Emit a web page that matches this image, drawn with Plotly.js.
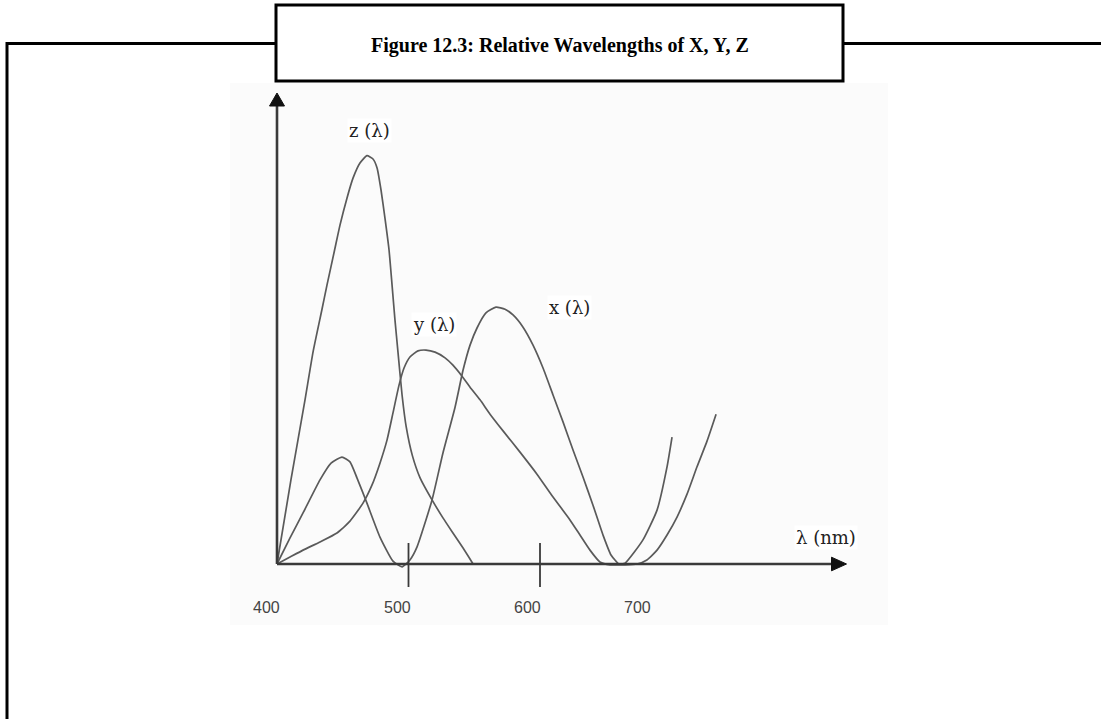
<!DOCTYPE html>
<html>
<head>
<meta charset="utf-8">
<script src="https://cdn.plot.ly/plotly-3.0.1.min.js"></script>
<style>html,body{margin:0;padding:0;background:#fff;}#chart{width:1101px;height:719px;}</style>
</head>
<body>
<div id="chart"></div>
<script>
// ---- data (wavelength in nm, relative response) ----
const zNm  = [400, 410.6, 421.3, 427.4, 434.1, 438.0, 443.8, 447.9, 453.2, 457.8, 463.1, 468.4, 473.0, 476.1, 479.1, 482.1, 485.2, 487.5, 489.7, 492.0, 495.1, 498.3, 502.9, 508.8, 517.9, 526.2, 533.8, 541.5, 549.1];
const zVal = [0, 0.206, 0.402, 0.519, 0.622, 0.683, 0.769, 0.830, 0.896, 0.945, 0.982, 1.0, 0.992, 0.970, 0.916, 0.847, 0.769, 0.683, 0.598, 0.519, 0.414, 0.335, 0.266, 0.211, 0.157, 0.113, 0.076, 0.039, 0.0];

const yNm  = [400, 409.9, 419.8, 432.7, 445.6, 455.5, 465.4, 472.2, 478.3, 483.7, 488.2, 492.8, 496.6, 501.1, 507.2, 513.3, 520.2, 527.8, 533.8, 540.7, 546.8, 554.4, 562.0, 571.9, 584.8, 597.7, 609.9, 622.8, 630.4, 638.0, 645.6, 653.2, 664.7, 673.8, 681.3, 689.0, 696.6, 704.2, 711.8, 719.4, 727.0, 733.9];
const yVal = [0, 0.017, 0.034, 0.054, 0.076, 0.105, 0.149, 0.193, 0.247, 0.304, 0.370, 0.438, 0.480, 0.507, 0.522, 0.524, 0.519, 0.505, 0.487, 0.460, 0.433, 0.402, 0.367, 0.326, 0.274, 0.220, 0.164, 0.108, 0.071, 0.034, 0.005, -0.002, -0.002, 0, 0.010, 0.034, 0.071, 0.115, 0.171, 0.238, 0.301, 0.367];

const xNm  = [400, 409.9, 419.8, 432.7, 441.1, 449.4, 455.5, 460.8, 468.4, 478.3, 488.2, 495.1, 501.1, 506.5, 517.9, 526.2, 535.4, 541.5, 546.8, 552.1, 558.9, 566.5, 573.4, 579.5, 587.1, 594.7, 602.3, 609.9, 617.5, 625.1, 632.7, 640.3, 647.9, 654.0, 660.1, 664.7, 678.3, 689.0, 696.6, 700.4];
const xVal = [0, 0.064, 0.125, 0.206, 0.247, 0.262, 0.250, 0.211, 0.149, 0.066, 0.007, -0.007, 0.010, 0.042, 0.157, 0.272, 0.384, 0.475, 0.536, 0.578, 0.615, 0.629, 0.624, 0.610, 0.580, 0.536, 0.480, 0.414, 0.348, 0.279, 0.213, 0.144, 0.071, 0.022, 0.0, 0.002, 0.059, 0.132, 0.238, 0.311];

const seriesLabels = ['z (λ)', 'y (λ)', 'x (λ)'];
const axisLabel = 'λ (nm)';
const tickVals = [400, 500, 600, 700];
const tickText = ['400', '500', '600', '700'];
const titleText = 'Figure 12.3: Relative Wavelengths of X, Y, Z';

// ---- geometry (pixel scale of the drawing) ----
const W = 1101, H = 719;
const ORIGIN_PX = 277, ORIGIN_PY = 564;
const PX_PER_NM = 1.315, PX_PER_UNIT = 408.3;
const xRange = [400 - ORIGIN_PX / PX_PER_NM, 400 + (W - ORIGIN_PX) / PX_PER_NM];
const yRange = [(ORIGIN_PY - H) / PX_PER_UNIT, ORIGIN_PY / PX_PER_UNIT];
const dxNm = p => p / PX_PER_NM;      // pixel length -> nm
const dyU  = p => p / PX_PER_UNIT;    // pixel length -> units
const fx = p => p / W, fy = p => 1 - p / H; // pixel -> paper

const curveStyle = {color: '#5a5a5a', width: 1.7, shape: 'spline', smoothing: 0.5};
const traces = [
  {x: zNm, y: zVal, mode: 'lines', line: curveStyle, hoverinfo: 'skip'},
  {x: yNm, y: yVal, mode: 'lines', line: curveStyle, hoverinfo: 'skip'},
  {x: xNm, y: xVal, mode: 'lines', line: curveStyle, hoverinfo: 'skip'}
];

const axisCol = '#3a3a3a';
const xTip = 400 + dxNm(846.5 - ORIGIN_PX);
const yTip = dyU(ORIGIN_PY - 93);
const shapes = [
  // faint background of the pasted drawing
  {type: 'rect', xref: 'paper', yref: 'paper', x0: fx(230), x1: fx(888), y0: fy(625), y1: fy(83),
   fillcolor: '#fbfbfb', line: {width: 0}, layer: 'below'},
  // outer frame
  {type: 'path', xref: 'paper', yref: 'paper',
   path: `M ${fx(276)},${fy(43.5)} L ${fx(7)},${fy(43.5)} L ${fx(7)},${fy(722)}`,
   line: {color: '#000', width: 3}},
  {type: 'line', xref: 'paper', yref: 'paper', x0: fx(843), x1: fx(1102), y0: fy(43.5), y1: fy(43.5),
   line: {color: '#000', width: 3}},
  {type: 'rect', xref: 'paper', yref: 'paper', x0: fx(276), x1: fx(843), y0: fy(81), y1: fy(5),
   line: {color: '#000', width: 3}, fillcolor: '#fff'},
  // x axis with arrow
  {type: 'line', xref: 'x', yref: 'y', x0: 400, x1: xTip - dxNm(10), y0: 0, y1: 0,
   line: {color: axisCol, width: 2.6}},
  {type: 'path', xref: 'x', yref: 'y',
   path: `M ${xTip},0 L ${xTip - dxNm(15)},${dyU(6.8)} L ${xTip - dxNm(15)},${-dyU(6.8)} Z`,
   fillcolor: '#111', line: {color: '#111', width: 1}},
  // y axis with arrow
  {type: 'line', xref: 'x', yref: 'y', x0: 400, x1: 400, y0: 0, y1: yTip - dyU(10),
   line: {color: axisCol, width: 2.6}},
  {type: 'path', xref: 'x', yref: 'y',
   path: `M 400,${yTip} L ${400 - dxNm(7.5)},${yTip - dyU(13)} L ${400 + dxNm(7.5)},${yTip - dyU(13)} Z`,
   fillcolor: '#111', line: {color: '#111', width: 1}}
];
// tick marks crossing the axis at 500 and 600
tickVals.slice(1, 3).forEach(v => shapes.push({
  type: 'line', xref: 'x', yref: 'y', x0: v, x1: v, y0: dyU(21), y1: -dyU(23),
  line: {color: axisCol, width: 1.8}
}));

const serif = 'Liberation Serif, Times New Roman, serif';
const lblFont = {family: 'DejaVu Serif, serif', size: 18, color: '#222'};
const annotations = [
  {xref: 'paper', yref: 'paper', x: fx(559.5), y: fy(45), text: '<b>' + titleText + '</b>',
   showarrow: false, font: {family: serif, size: 20, color: '#000'}, xanchor: 'center', yanchor: 'middle'},
  // curve labels placed next to each peak
  {x: 400 + dxNm(369.5 - ORIGIN_PX), y: dyU(ORIGIN_PY - 130), text: seriesLabels[0]},
  {x: 400 + dxNm(433.5 - ORIGIN_PX), y: dyU(ORIGIN_PY - 324), text: seriesLabels[1]},
  {x: 400 + dxNm(569 - ORIGIN_PX),   y: dyU(ORIGIN_PY - 307), text: seriesLabels[2]},
  {x: 400 + dxNm(826 - ORIGIN_PX),   y: dyU(ORIGIN_PY - 537), text: axisLabel}
].map((a, i) => i === 0 ? a : Object.assign({xref: 'x', yref: 'y', showarrow: false, font: lblFont,
   xanchor: 'center', yanchor: 'middle', bgcolor: '#fff'}, a));
const tickShift = [-11, -11, -13, -34];
tickVals.forEach((v, i) => annotations.push({
  xref: 'x', yref: 'y', x: v, y: -dyU(607 - ORIGIN_PY), xshift: tickShift[i], text: tickText[i],
  showarrow: false, xanchor: 'center', yanchor: 'middle',
  font: {family: 'Liberation Sans, Arial, sans-serif', size: 16, color: '#444'}
}));

const layout = {
  width: W, height: H, margin: {l: 0, r: 0, t: 0, b: 0, pad: 0},
  paper_bgcolor: '#fff', plot_bgcolor: 'rgba(0,0,0,0)', showlegend: false,
  xaxis: {range: xRange, autorange: false, visible: false, fixedrange: true},
  yaxis: {range: yRange, autorange: false, visible: false, fixedrange: true},
  shapes: shapes, annotations: annotations
};
Plotly.newPlot('chart', traces, layout, {staticPlot: true, displayModeBar: false});
</script>
</body>
</html>
